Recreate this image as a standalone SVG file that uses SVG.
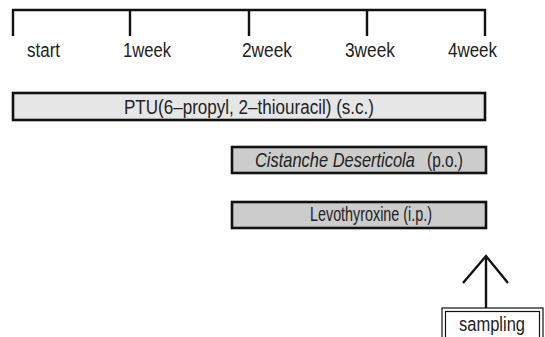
<svg xmlns="http://www.w3.org/2000/svg" width="545" height="337" viewBox="0 0 545 337">
<style>
text{font-family:"Liberation Sans","Noto Sans",Arial,sans-serif;font-size:20px;fill:#222}
.ln{stroke:#111;stroke-width:2.4;fill:none}
.bar{stroke:#111;stroke-width:2.6}
</style>
<rect width="545" height="337" fill="#fff"/>
<g id="timeline">
<path class="ln" d="M12,10H486M13,9V36M130,10V36M249,10V36M367,10V36M485,9V36"/>
<text x="27" y="57" textLength="33" lengthAdjust="spacingAndGlyphs">start</text>
<text x="123" y="57" textLength="48" lengthAdjust="spacingAndGlyphs">1week</text>
<text x="242" y="57" textLength="50" lengthAdjust="spacingAndGlyphs">2week</text>
<text x="345" y="57" textLength="50" lengthAdjust="spacingAndGlyphs">3week</text>
<text x="448" y="57" textLength="49" lengthAdjust="spacingAndGlyphs">4week</text>
</g>
<g id="ptu">
<rect class="bar" x="13" y="93" width="472" height="27" fill="#e6e6e6"/>
<text x="249" y="114" text-anchor="middle" textLength="250" lengthAdjust="spacingAndGlyphs">PTU(6–propyl, 2–thiouracil) (s.c.)</text>
</g>
<g id="cistanche">
<rect class="bar" x="232" y="147" width="254" height="26" fill="#cccccc"/>
<text transform="translate(255,167) scale(0.82,1)" font-style="italic" textLength="195" lengthAdjust="spacingAndGlyphs">Cistanche Deserticola</text>
<text x="427" y="167" textLength="36" lengthAdjust="spacingAndGlyphs">(p.o.)</text>
</g>
<g id="levothyroxine">
<rect class="bar" x="232" y="202" width="254" height="26" fill="#cccccc"/>
<text x="310" y="221" textLength="122" lengthAdjust="spacingAndGlyphs">Levothyroxine (i.p.)</text>
</g>
<g id="connectors">
<path class="ln" d="M486,256V310M463,283L486,256L508,283"/>
</g>
<g id="sampling">
<rect x="442" y="308" width="101" height="32" fill="#fff" stroke="#111" stroke-width="1.2"/>
<rect x="445.5" y="311.5" width="94" height="30" fill="#fff" stroke="#111" stroke-width="1.2"/>
<text x="492" y="331" text-anchor="middle" textLength="66" lengthAdjust="spacingAndGlyphs">sampling</text>
</g>
</svg>
